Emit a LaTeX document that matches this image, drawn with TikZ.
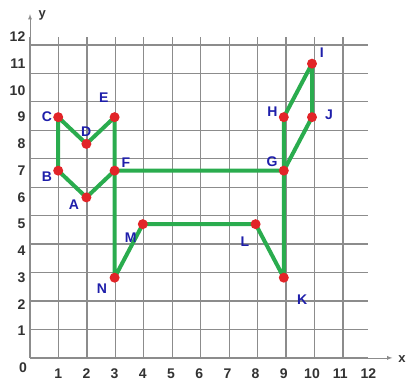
\documentclass[tikz,border=0pt]{standalone}
\usepackage{fontspec}
\setmainfont{Liberation Sans}
\definecolor{cgrid}{RGB}{140,140,140}
\definecolor{cleg}{RGB}{42,172,78}
\definecolor{cdot}{RGB}{226,36,40}
\definecolor{clbl}{RGB}{30,30,170}
\definecolor{cnum}{RGB}{50,50,50}
\tikzset{catplot/.style={x=28.2pt,y=26.75pt,font=\fontsize{14}{16}\selectfont\bfseries},
  leg/.style={cleg,line width=4pt,line join=round,line cap=round},
  dot/.style={circle,fill=cdot,inner sep=0pt,minimum size=10pt},
  lbl/.style={clbl,inner sep=0pt},
  num/.style={cnum,inner sep=0pt}}

\begin{document}
\begin{tikzpicture}[catplot]
    \useasboundingbox (-1.064,-1.01) rectangle (13.44,13.38);
    \draw[cgrid,line width=1.2pt] (0,0) grid (12,12);
    \draw[cgrid,line width=0.8pt,-latex] (0,12) -- (0,12.85);
    \draw[cgrid,line width=0.8pt,-latex] (12,0) -- (12.85,0);
    \node[num,font=\fontsize{13}{15}\selectfont\bfseries] (ylab) at (0.43,12.82) {y};
    \node[num,font=\fontsize{13}{15}\selectfont\bfseries] (xlab) at (13.19,-0.03) {x};
    \node[num] (zero) at (-0.25,-0.37) {0};
    \foreach \x in {1,...,12} \node[num] (tx\x) at (\x,-0.58) {\x};
    \foreach \y in {1,...,12} \node[num,anchor=east] (ty\y) at (-0.16,\y) {\y};
    % corner points
    \coordinate (A) at (2,6);  \coordinate (B) at (1,7);
    \coordinate (C) at (1,9);  \coordinate (D) at (2,8);
    \coordinate (E) at (3,9);  \coordinate (F) at (3,7);
    \coordinate (G) at (9,7);  \coordinate (H) at (9,9);
    \coordinate (I) at (10,11); \coordinate (J) at (10,9);
    \coordinate (K) at (9,3);  \coordinate (L) at (8,5);
    \coordinate (M) at (4,5);  \coordinate (N) at (3,3);
    \draw[leg] (F) -- (A) -- (B) -- (C) -- (D) -- (E) -- (F) -- (G);
    \draw[leg] (F) -- (N) -- (M) -- (L) -- (K) -- (G) -- (H) -- (I) -- (J) -- (G);
    \foreach \p in {A,B,C,D,E,F,G,H,I,J,K,L,M,N} \node[dot] (d\p) at (\p) {};
    \node[lbl] (lA) at (1.56,5.72) {A};
    \node[lbl] (lB) at (0.6,6.77) {B};
    \node[lbl] (lC) at (0.6,9.0) {C};
    \node[lbl] (lD) at (1.99,8.45) {D};
    \node[lbl] (lE) at (2.62,9.72) {E};
    \node[lbl] (lF) at (3.4,7.29) {F};
    \node[lbl] (lG) at (8.58,7.33) {G};
    \node[lbl] (lH) at (8.6,9.2) {H};
    \node[lbl] (lI) at (10.35,11.4) {I};
    \node[lbl] (lJ) at (10.6,9.08) {J};
    \node[lbl] (lK) at (9.65,2.17) {K};
    \node[lbl] (lL) at (7.62,4.34) {L};
    \node[lbl] (lM) at (3.57,4.49) {M};
    \node[lbl] (lN) at (2.55,2.58) {N};
\end{tikzpicture}
\end{document}
